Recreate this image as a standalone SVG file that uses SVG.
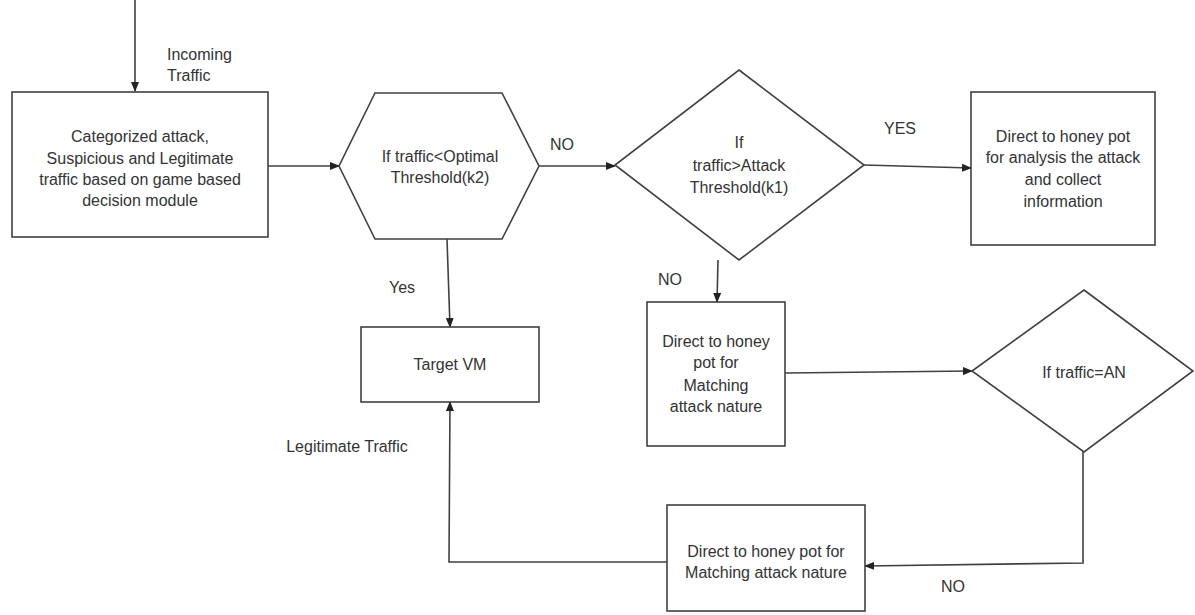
<svg xmlns="http://www.w3.org/2000/svg" width="1195" height="615" viewBox="0 0 1195 615">
<style>
.shape{fill:#fff;stroke:#404040;stroke-width:1.6}
.conn{fill:none;stroke:#404040;stroke-width:1.6}
text{font-family:"Liberation Sans",Arial,sans-serif;font-size:16px;fill:#333}
.c{text-anchor:middle}
</style>
<defs>
<marker id="ah" markerWidth="10" markerHeight="8" refX="9" refY="4" orient="auto" markerUnits="userSpaceOnUse">
<path d="M0,0 L10,4 L0,8 Z" fill="#222"/>
</marker>
</defs>
<rect width="1195" height="615" fill="#fff"/>
<g id="connectors">
<line class="conn" x1="135" y1="0" x2="135" y2="91" marker-end="url(#ah)"/>
<line class="conn" x1="268" y1="166" x2="339" y2="166" marker-end="url(#ah)"/>
<line class="conn" x1="539" y1="166" x2="615" y2="166" marker-end="url(#ah)"/>
<line class="conn" x1="864" y1="165" x2="971" y2="168" marker-end="url(#ah)"/>
<line class="conn" x1="447" y1="239" x2="450" y2="327" marker-end="url(#ah)"/>
<line class="conn" x1="718" y1="260" x2="717" y2="302" marker-end="url(#ah)"/>
<line class="conn" x1="785" y1="373" x2="972" y2="371" marker-end="url(#ah)"/>
<polyline class="conn" points="1083,452 1083,563 865,566" marker-end="url(#ah)"/>
<polyline class="conn" points="667,562 449,562 450,402" marker-end="url(#ah)"/>
</g>
<g id="labels">
<text x="167" y="60">Incoming</text>
<text x="167" y="81">Traffic</text>
<text class="c" x="562" y="150">NO</text>
<text class="c" x="900" y="134">YES</text>
<text class="c" x="402" y="293">Yes</text>
<text class="c" x="670" y="285">NO</text>
<text class="c" x="347" y="452">Legitimate Traffic</text>
<text class="c" x="953" y="592">NO</text>
</g>
<g id="categorize">
<rect class="shape" x="12" y="92" width="256" height="145"/>
<text class="c" x="140" y="142">Categorized attack,</text>
<text class="c" x="140" y="164">Suspicious and Legitimate</text>
<text class="c" x="140" y="185">traffic based on game based</text>
<text class="c" x="140" y="206">decision module</text>
</g>
<g id="optimal-check">
<polygon class="shape" points="375,93 502,93 539,166 502,239 375,239 339,166"/>
<text class="c" x="440" y="162">If traffic&lt;Optimal</text>
<text class="c" x="440" y="183">Threshold(k2)</text>
</g>
<g id="attack-check">
<polygon class="shape" points="739,70 864,165 739,260 615,165"/>
<text class="c" x="739" y="148">If</text>
<text class="c" x="739" y="171">traffic&gt;Attack</text>
<text class="c" x="739" y="193">Threshold(k1)</text>
</g>
<g id="honeypot-analysis">
<rect class="shape" x="971" y="92" width="184" height="153"/>
<text class="c" x="1063" y="142">Direct to honey pot</text>
<text class="c" x="1063" y="163">for analysis the attack</text>
<text class="c" x="1063" y="185">and collect</text>
<text class="c" x="1063" y="207">information</text>
</g>
<g id="target-vm">
<rect class="shape" x="361" y="327" width="178" height="75"/>
<text class="c" x="450" y="370">Target VM</text>
</g>
<g id="honeypot-matching">
<rect class="shape" x="647" y="302" width="138" height="144"/>
<text class="c" x="716" y="347">Direct to honey</text>
<text class="c" x="716" y="368">pot for</text>
<text class="c" x="716" y="391">Matching</text>
<text class="c" x="716" y="412">attack nature</text>
</g>
<g id="an-check">
<polygon class="shape" points="1084,290 1193,371 1084,452 972,371"/>
<text class="c" x="1084" y="378">If traffic=AN</text>
</g>
<g id="honeypot-matching-2">
<rect class="shape" x="667" y="505" width="198" height="106"/>
<text class="c" x="766" y="557">Direct to honey pot for</text>
<text class="c" x="766" y="578">Matching attack nature</text>
</g>
</svg>
